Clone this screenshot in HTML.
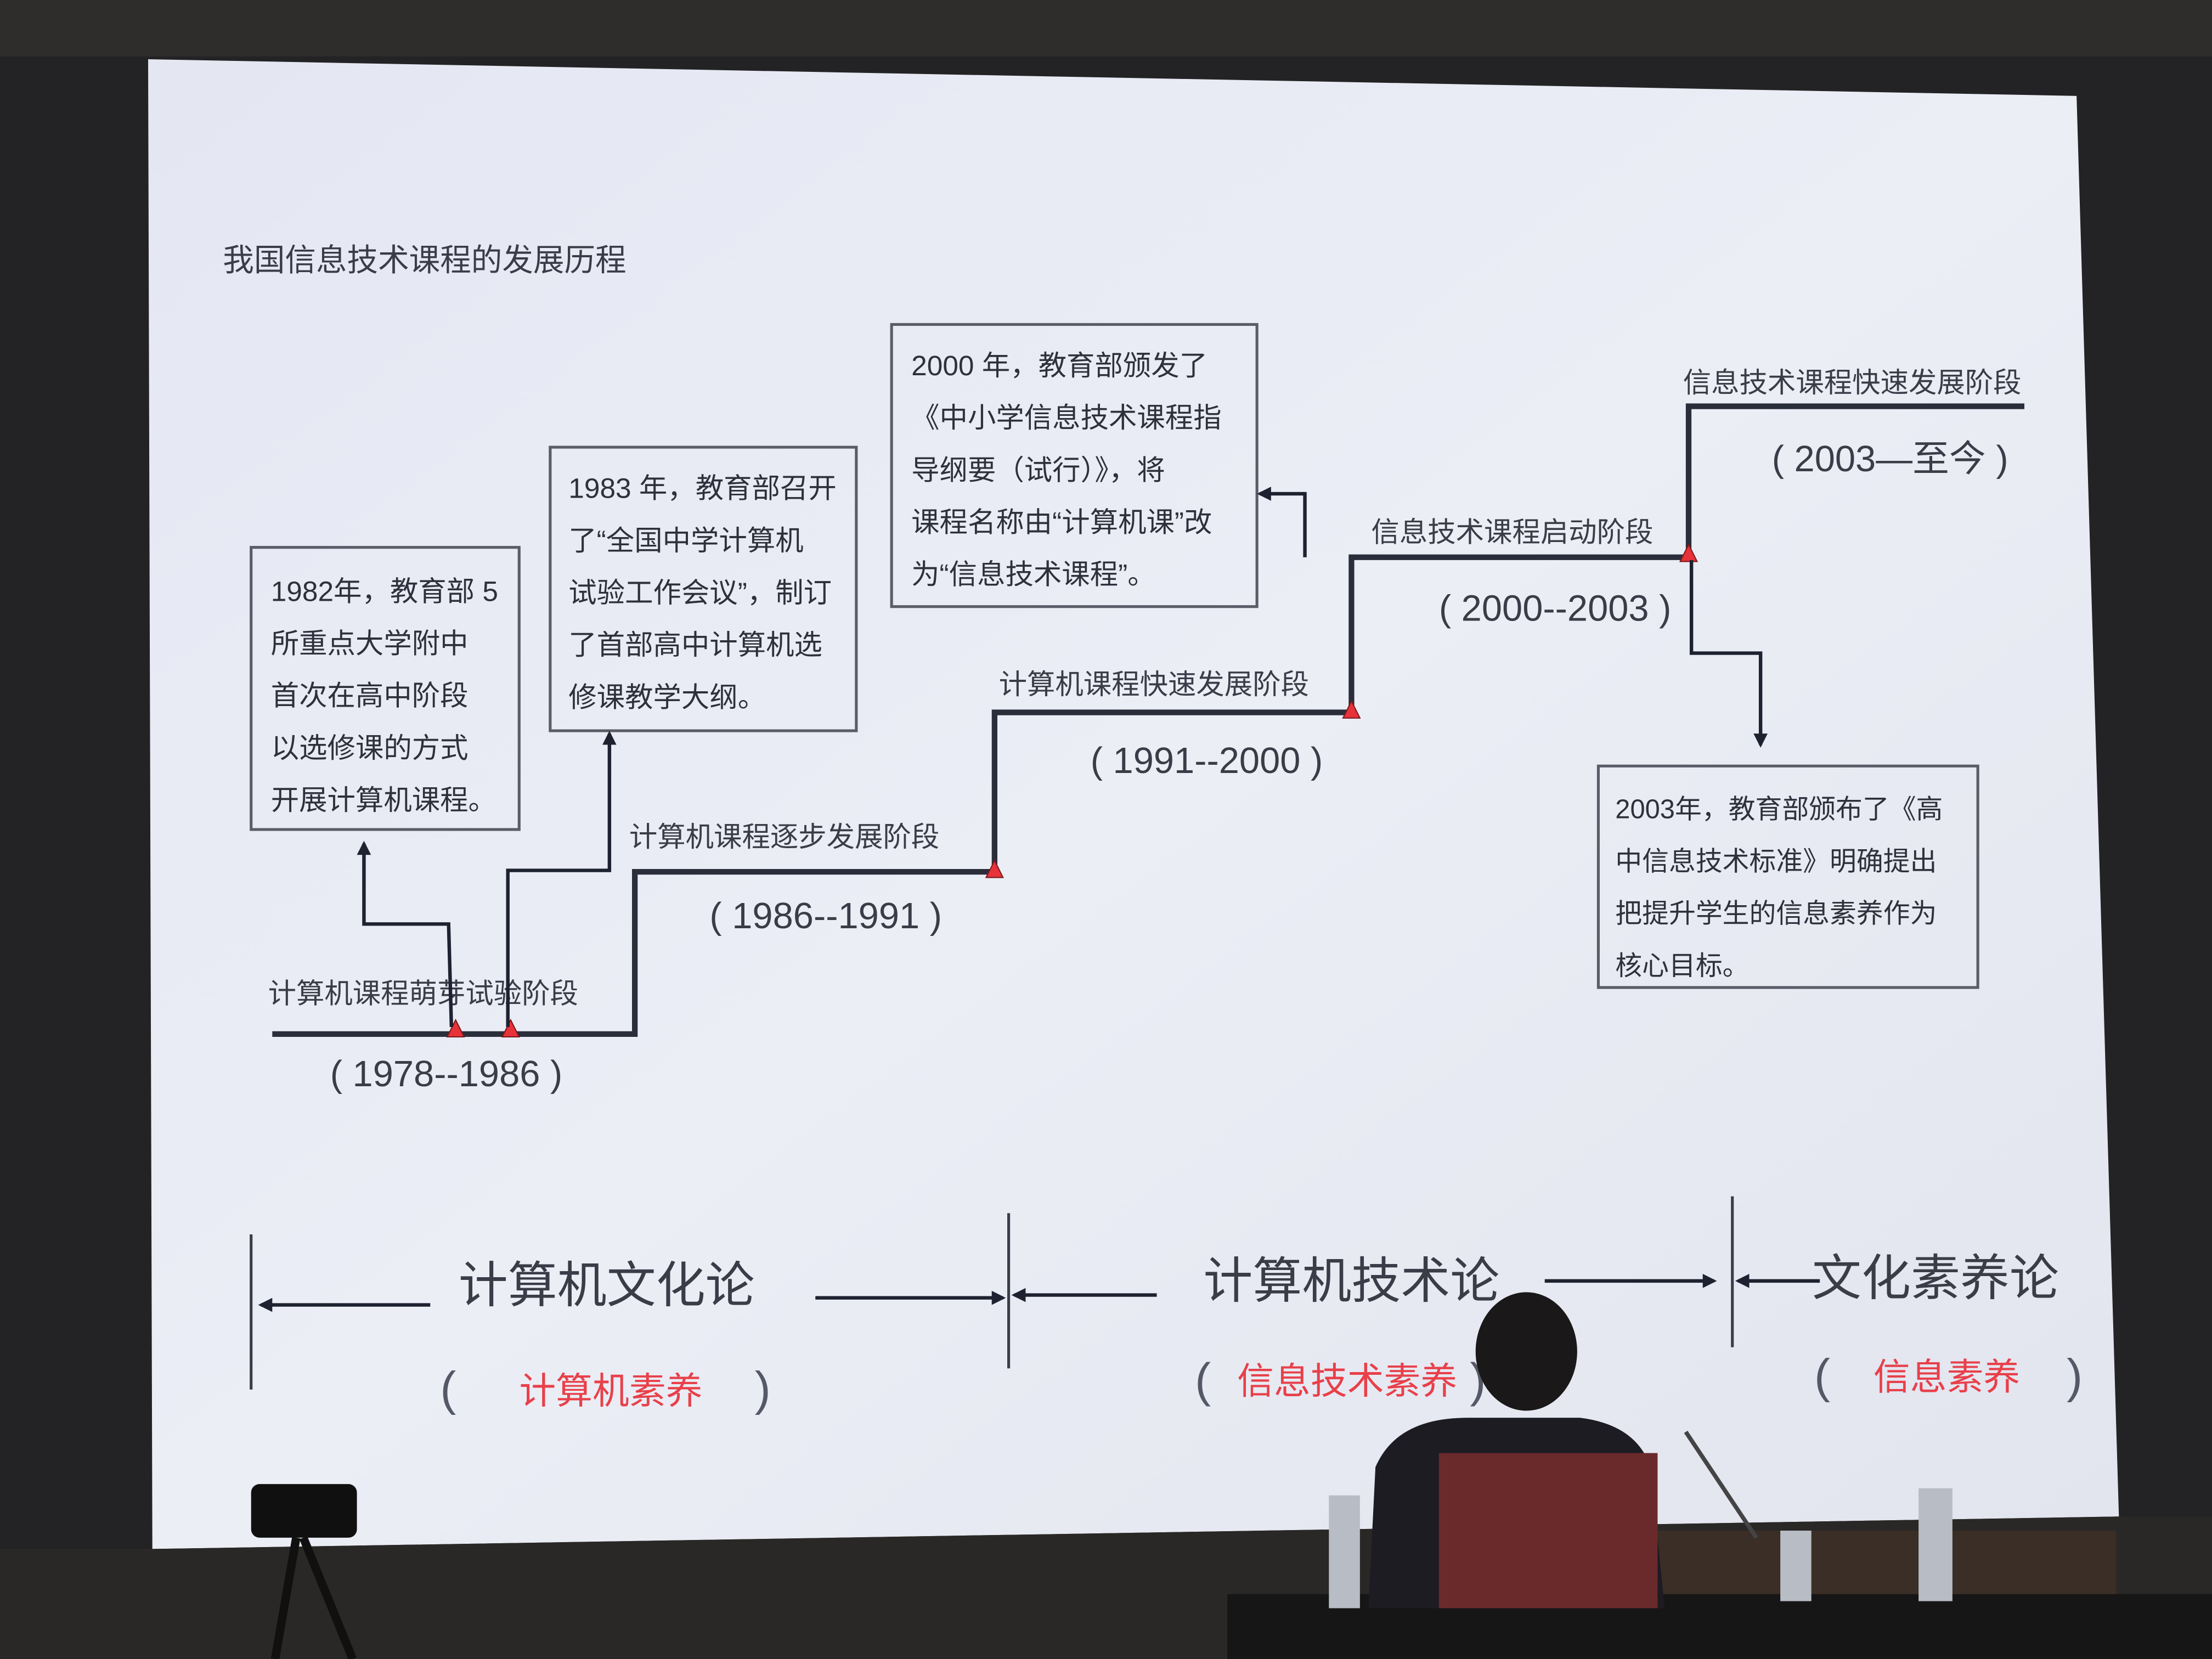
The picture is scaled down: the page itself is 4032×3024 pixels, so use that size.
<!DOCTYPE html>
<html><head><meta charset="utf-8">
<style>
html,body{margin:0;padding:0;background:#1a1a1c;}
svg{display:block;}
text{font-family:"Liberation Sans","Noto Sans CJK SC","WenQuanYi Zen Hei",sans-serif;}
</style></head><body>
<svg width="4032" height="3024" viewBox="0 0 1568 1176" xmlns="http://www.w3.org/2000/svg">
<defs>
<linearGradient id="scr" x1="0" y1="0" x2="1" y2="1">
<stop offset="0" stop-color="#e4e6f2"/><stop offset="0.5" stop-color="#eceef6"/><stop offset="1" stop-color="#e2e4ee"/>
</linearGradient>
<marker id="ah" markerWidth="10" markerHeight="10" refX="8" refY="5" orient="auto" markerUnits="userSpaceOnUse">
<path d="M0,0 L10,5 L0,10 z" fill="#1e2230"/></marker>
</defs>
<rect width="1568" height="1176" fill="#232325"/>
<rect x="0" y="0" width="1568" height="40" fill="#2e2d2b"/>
<polygon points="105,42 1472,68 1502,1075 108,1098" fill="url(#scr)"/>
<text x="158" y="192" font-size="22" fill="#3a3c48">我国信息技术课程的发展历程</text>
<polyline points="193,733 450,733 450,618 705,618 705,505 958,505 958,395 1197,395 1197,288 1435,288" fill="none" stroke="#2a2e3a" stroke-width="4"/>
<g fill="#e8323a" stroke="#7a1a1a" stroke-width="0.8">
<polygon points="323,723 317,735 329,735"/>
<polygon points="362,723 356,735 368,735"/>
<polygon points="705,610 699,622 711,622"/>
<polygon points="958,497 952,509 964,509"/>
<polygon points="1197,386 1191,398 1203,398"/>
</g>
<g font-size="20" fill="#3a3c48">
<text x="190" y="711">计算机课程萌芽试验阶段</text>
<text x="446" y="600">计算机课程逐步发展阶段</text>
<text x="708" y="492">计算机课程快速发展阶段</text>
<text x="972" y="384">信息技术课程启动阶段</text>
<text x="1193" y="278">信息技术课程快速发展阶段</text>
</g>
<g font-size="26" fill="#3a3c48">
<text x="234" y="770">( 1978--1986 )</text>
<text x="503" y="658">( 1986--1991 )</text>
<text x="773" y="548">( 1991--2000 )</text>
<text x="1020" y="440">( 2000--2003 )</text>
<text x="1256" y="334">( 2003—至今 )</text>
</g>
<g fill="none" stroke="#5a5c68" stroke-width="2">
<rect x="178" y="388" width="190" height="200"/>
<rect x="390" y="317" width="217" height="201"/>
<rect x="632" y="230" width="259" height="200"/>
<rect x="1133" y="543" width="269" height="157"/>
</g>
<g font-size="20" fill="#2e303c">
<text x="192" y="426">1982年，教育部 5</text>
<text x="192" y="463">所重点大学附中</text>
<text x="192" y="500">首次在高中阶段</text>
<text x="192" y="537">以选修课的方式</text>
<text x="192" y="574">开展计算机课程。</text>
<text x="403" y="353">1983 年，教育部召开</text>
<text x="403" y="390">了“全国中学计算机</text>
<text x="403" y="427">试验工作会议”，制订</text>
<text x="403" y="464">了首部高中计算机选</text>
<text x="403" y="501">修课教学大纲。</text>
<text x="646" y="266">2000 年，教育部颁发了</text>
<text x="646" y="303">《中小学信息技术课程指</text>
<text x="646" y="340">导纲要（试行）》，将</text>
<text x="646" y="377">课程名称由“计算机课”改</text>
<text x="646" y="414">为“信息技术课程”。</text>
</g>
<g font-size="19" fill="#2e303c">
<text x="1145" y="580">2003年，教育部颁布了《高</text>
<text x="1145" y="617">中信息技术标准》明确提出</text>
<text x="1145" y="654">把提升学生的信息素养作为</text>
<text x="1145" y="691">核心目标。</text>
</g>
<g fill="none" stroke="#1e2230" stroke-width="2.5" marker-end="url(#ah)">
<polyline points="320,728 318,655 258,655 258,598"/>
<polyline points="360,728 360,617 432,617 432,520"/>
<polyline points="925,395 925,350 893,350"/>
<polyline points="1199,397 1199,463 1248,463 1248,528"/>
</g>
<g stroke="#3a3c48" stroke-width="2">
<line x1="178" y1="875" x2="178" y2="985"/>
<line x1="715" y1="860" x2="715" y2="970"/>
<line x1="1228" y1="848" x2="1228" y2="955"/>
</g>
<g stroke="#1e2230" stroke-width="2.5" marker-end="url(#ah)">
<line x1="305" y1="925" x2="185" y2="925"/>
<line x1="578" y1="920" x2="711" y2="920"/>
<line x1="820" y1="918" x2="719" y2="918"/>
<line x1="1095" y1="908" x2="1215" y2="908"/>
<line x1="1290" y1="908" x2="1232" y2="908"/>
</g>
<g font-size="35" fill="#3a3c48" text-anchor="middle">
<text x="430" y="923">计算机文化论</text>
<text x="958" y="920">计算机技术论</text>
<text x="1372" y="918">文化素养论</text>
</g>
<g font-size="34" fill="#555866">
<text x="312" y="996">(</text><text x="535" y="996">)</text>
<text x="847" y="990">(</text><text x="1042" y="990">)</text>
<text x="1286" y="987">(</text><text x="1465" y="987">)</text>
</g>
<g font-size="26" fill="#e8404a" text-anchor="middle">
<text x="433" y="995">计算机素养</text>
<text x="955" y="988">信息技术素养</text>
<text x="1380" y="985">信息素养</text>
</g>
<polygon points="0,1098 108,1098 1502,1075 1568,1075 1568,1176 0,1176" fill="#2a2826"/>
<rect x="870" y="1130" width="698" height="46" fill="#161616"/>
<rect x="1150" y="1085" width="350" height="45" fill="#3a2e26"/>
<ellipse cx="1082" cy="958" rx="36" ry="42" fill="#1a1818"/>
<path d="M975,1040 Q990,1005 1040,1005 L1120,1005 Q1160,1010 1170,1040 L1180,1140 L970,1140 z" fill="#1c1c22"/>
<rect x="1020" y="1030" width="155" height="110" fill="#6a2a2c"/>
<rect x="942" y="1060" width="22" height="80" fill="#b8bcc4"/>
<rect x="1262" y="1085" width="22" height="50" fill="#b8bcc4"/>
<rect x="1360" y="1055" width="24" height="80" fill="#b8bcc4"/>
<line x1="1195" y1="1015" x2="1245" y2="1090" stroke="#444" stroke-width="3"/>
<rect x="178" y="1052" width="75" height="38" rx="6" fill="#101010"/>
<path d="M210,1090 L195,1176 M215,1090 L250,1176" stroke="#101010" stroke-width="6"/>
</svg>
</body></html>
